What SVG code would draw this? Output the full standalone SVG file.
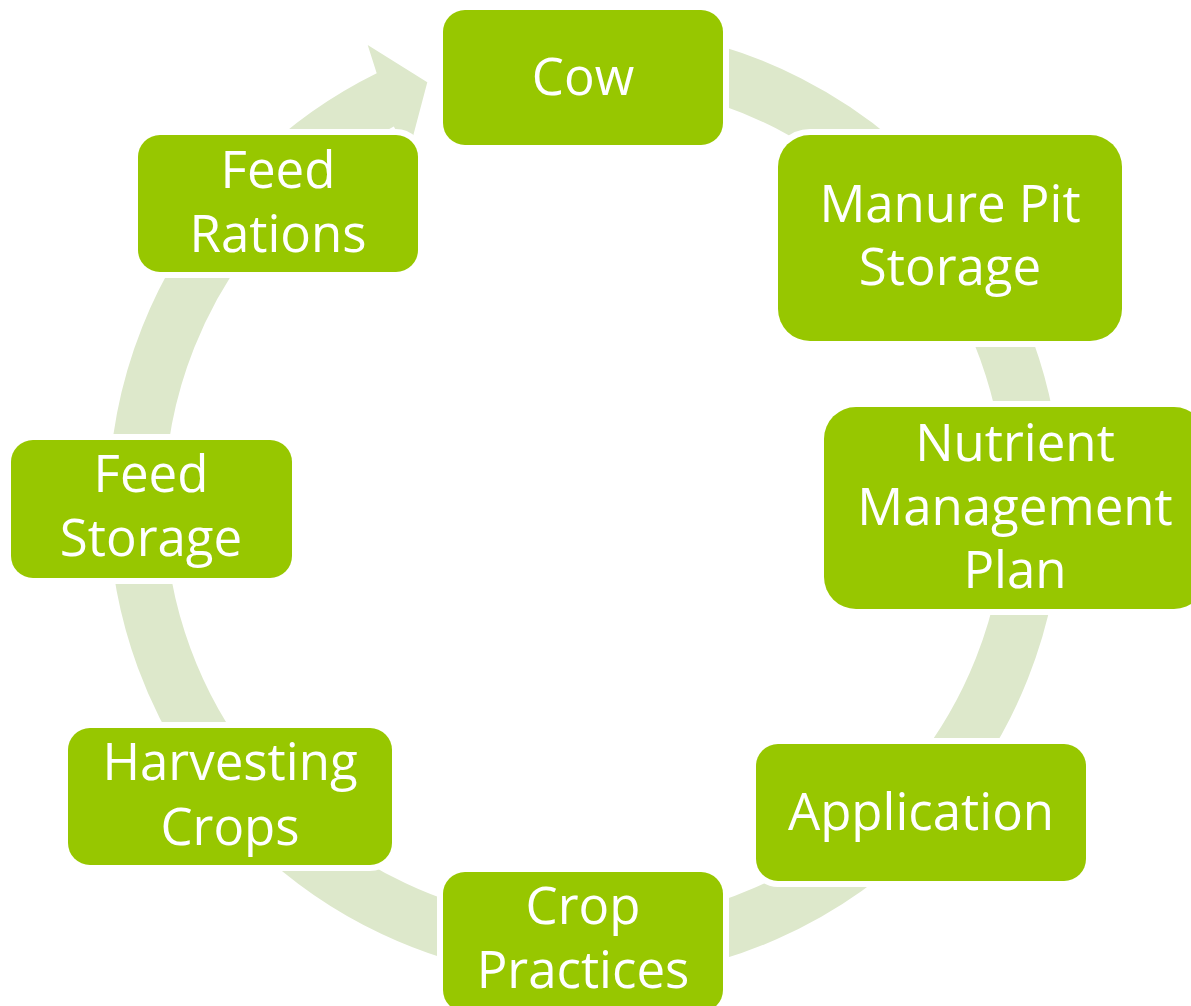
<svg xmlns="http://www.w3.org/2000/svg" width="1191" height="1006" viewBox="0 0 1191 1006">
<style>
.conn{fill:none;stroke:#DDE8CB;stroke-width:56}
.connf{fill:#DDE8CB;stroke:none}
.box{fill:#97C700;stroke:#FFFFFF;stroke-width:12;paint-order:stroke}
.lbl{font-family:"Open Sans","Liberation Sans",sans-serif;font-size:51px;fill:#FFFFFF;text-anchor:middle}
</style>
<rect x="0" y="0" width="1191" height="1006" fill="#FFFFFF"/>
<g id="connectors">
<path class="conn" d="M585,54.5 A448.5,448.5 0 0 1 947.8,239.4"/>
<path class="conn" d="M947.8,239.4 A448.5,448.5 0 0 1 1033.5,508.5"/>
<path class="conn" d="M1033.5,508.5 A448.5,448.5 0 0 1 915.1,806.6"/>
<path class="conn" d="M915.1,806.6 A448.5,448.5 0 0 1 585,951.5"/>
<path class="conn" d="M585,951.5 A448.5,448.5 0 0 1 238.9,788.3"/>
<path class="conn" d="M238.9,788.3 A448.5,448.5 0 0 1 136.6,510.8"/>
<path class="conn" d="M136.6,510.8 A448.5,448.5 0 0 1 264.0,189.8"/>
<path class="connf" d="M244.0,170.2 A477,477 0 0 1 376.7,73.3 L367.7,45 L427.3,82.3 L408.6,153 L393.8,126.6 A421,421 0 0 0 284.0,209.3 Z"/>
</g>
<g id="node-cow">
<rect class="box" x="443" y="10" width="280" height="135" rx="22"/>
<text class="lbl" x="583" y="95">Cow</text>
</g>
<g id="node-manure">
<rect class="box" x="778" y="135" width="344" height="206" rx="32"/>
<text class="lbl" x="950" y="222">Manure Pit</text>
<text class="lbl" x="950" y="285">Storage</text>
</g>
<g id="node-nutrient">
<rect class="box" x="824" y="407" width="382" height="202" rx="32"/>
<text class="lbl" x="1015" y="461">Nutrient</text>
<text class="lbl" x="1015" y="525">Management</text>
<text class="lbl" x="1015" y="588">Plan</text>
</g>
<g id="node-application">
<rect class="box" x="756" y="744" width="330" height="137" rx="22"/>
<text class="lbl" x="921" y="830">Application</text>
</g>
<g id="node-crop">
<rect class="box" x="443" y="872" width="280" height="140" rx="22"/>
<text class="lbl" x="583" y="924">Crop</text>
<text class="lbl" x="583" y="988">Practices</text>
</g>
<g id="node-harvesting">
<rect class="box" x="68" y="728" width="324" height="137" rx="22"/>
<text class="lbl" x="230" y="780">Harvesting</text>
<text class="lbl" x="230" y="845">Crops</text>
</g>
<g id="node-feed-storage">
<rect class="box" x="11" y="440" width="281" height="138" rx="22"/>
<text class="lbl" x="151" y="492">Feed</text>
<text class="lbl" x="151" y="556">Storage</text>
</g>
<g id="node-feed-rations">
<rect class="box" x="138" y="135" width="280" height="137" rx="22"/>
<text class="lbl" x="278" y="188">Feed</text>
<text class="lbl" x="278" y="252">Rations</text>
</g>
</svg>
